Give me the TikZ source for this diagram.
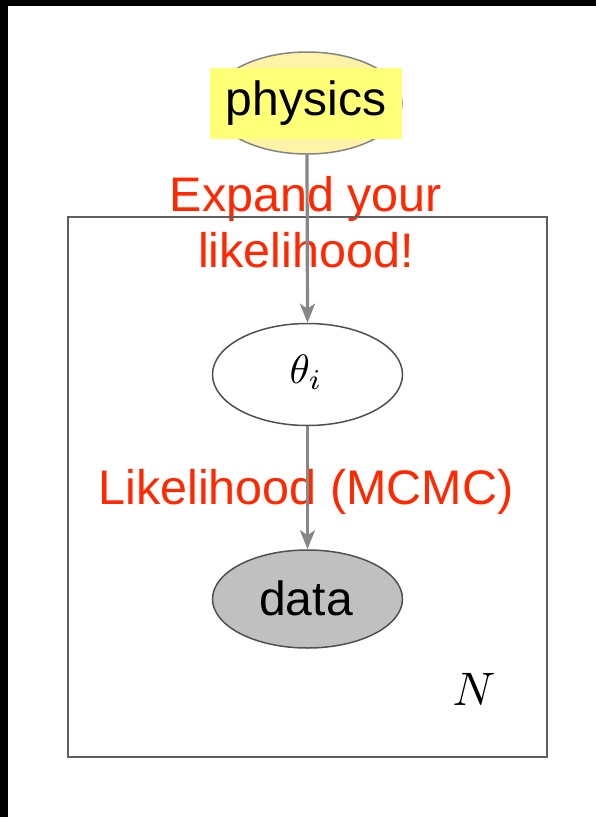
\documentclass[tikz,border=0pt]{standalone}
\usepackage{fontspec}
\setmainfont{Liberation Sans}
\usetikzlibrary{arrows.meta,shapes.geometric}
\definecolor{redtext}{RGB}{255,40,0}
\definecolor{ellgray}{RGB}{80,80,80}
\definecolor{arrgray}{RGB}{135,135,135}
\definecolor{platecol}{RGB}{95,95,95}
\definecolor{physfill}{RGB}{255,243,168}
\definecolor{labelyellow}{RGB}{255,255,120}
\definecolor{datafill}{RGB}{192,192,192}
\tikzset{
  nodeell/.style={ellipse, draw=ellgray, line width=1.5pt, minimum width=190pt, minimum height=102pt, inner sep=0pt},
  conn/.style={draw=arrgray, line width=3.2pt, -{Stealth[length=19pt,width=15pt,inset=5pt]}},
  redlabel/.style={text=redtext, font=\fontsize{48.5}{56}\selectfont, inner sep=0pt, align=center},
  bigtext/.style={font=\fontsize{48}{56}\selectfont, inner sep=0pt},
  platebox/.style={draw=platecol, line width=2pt, minimum width=479pt, minimum height=540pt, inner sep=0pt}
}
\begin{document}
\begin{tikzpicture}[x=1pt,y=-1pt]
\useasboundingbox (0,0) rectangle (596,817);
\fill[white] (0,0) rectangle (596,817);
\fill[black] (0,0) rectangle (596,6);
\fill[black] (0,0) rectangle (8,817);
% physics node
\node[nodeell, fill=physfill, draw=ellgray!70] (phys) at (307,103) {};
\node[bigtext, fill=labelyellow, minimum width=192pt, minimum height=71pt] (physlabel) at (306,103.5) {physics};
% red labels
\node[redlabel] (expand) at (306,222) {Expand your\\likelihood!};
\node[redlabel, anchor=base] (mcmc) at (306,504) {Likelihood (MCMC)};
% plate
\node[platebox] (plate) at (307.5,487) {};
\node[scale=4.7, inner sep=0pt] (nlabel) at (474,689) {$N$};
% theta and data
\node[nodeell, fill=white] (theta) at (307.5,374.5) {};
\node[scale=4.1, inner sep=0pt] (thetalabel) at (306,372) {$\theta_i$};
\node[nodeell, fill=datafill, minimum height=98pt] (data) at (307.5,599) {};
\node[bigtext] (datalabel) at (306,598) {data};
% connectors
\draw[conn] (phys.south) -- (theta.north);
\draw[conn] (theta.south) -- (data.north);
\end{tikzpicture}
\end{document}
